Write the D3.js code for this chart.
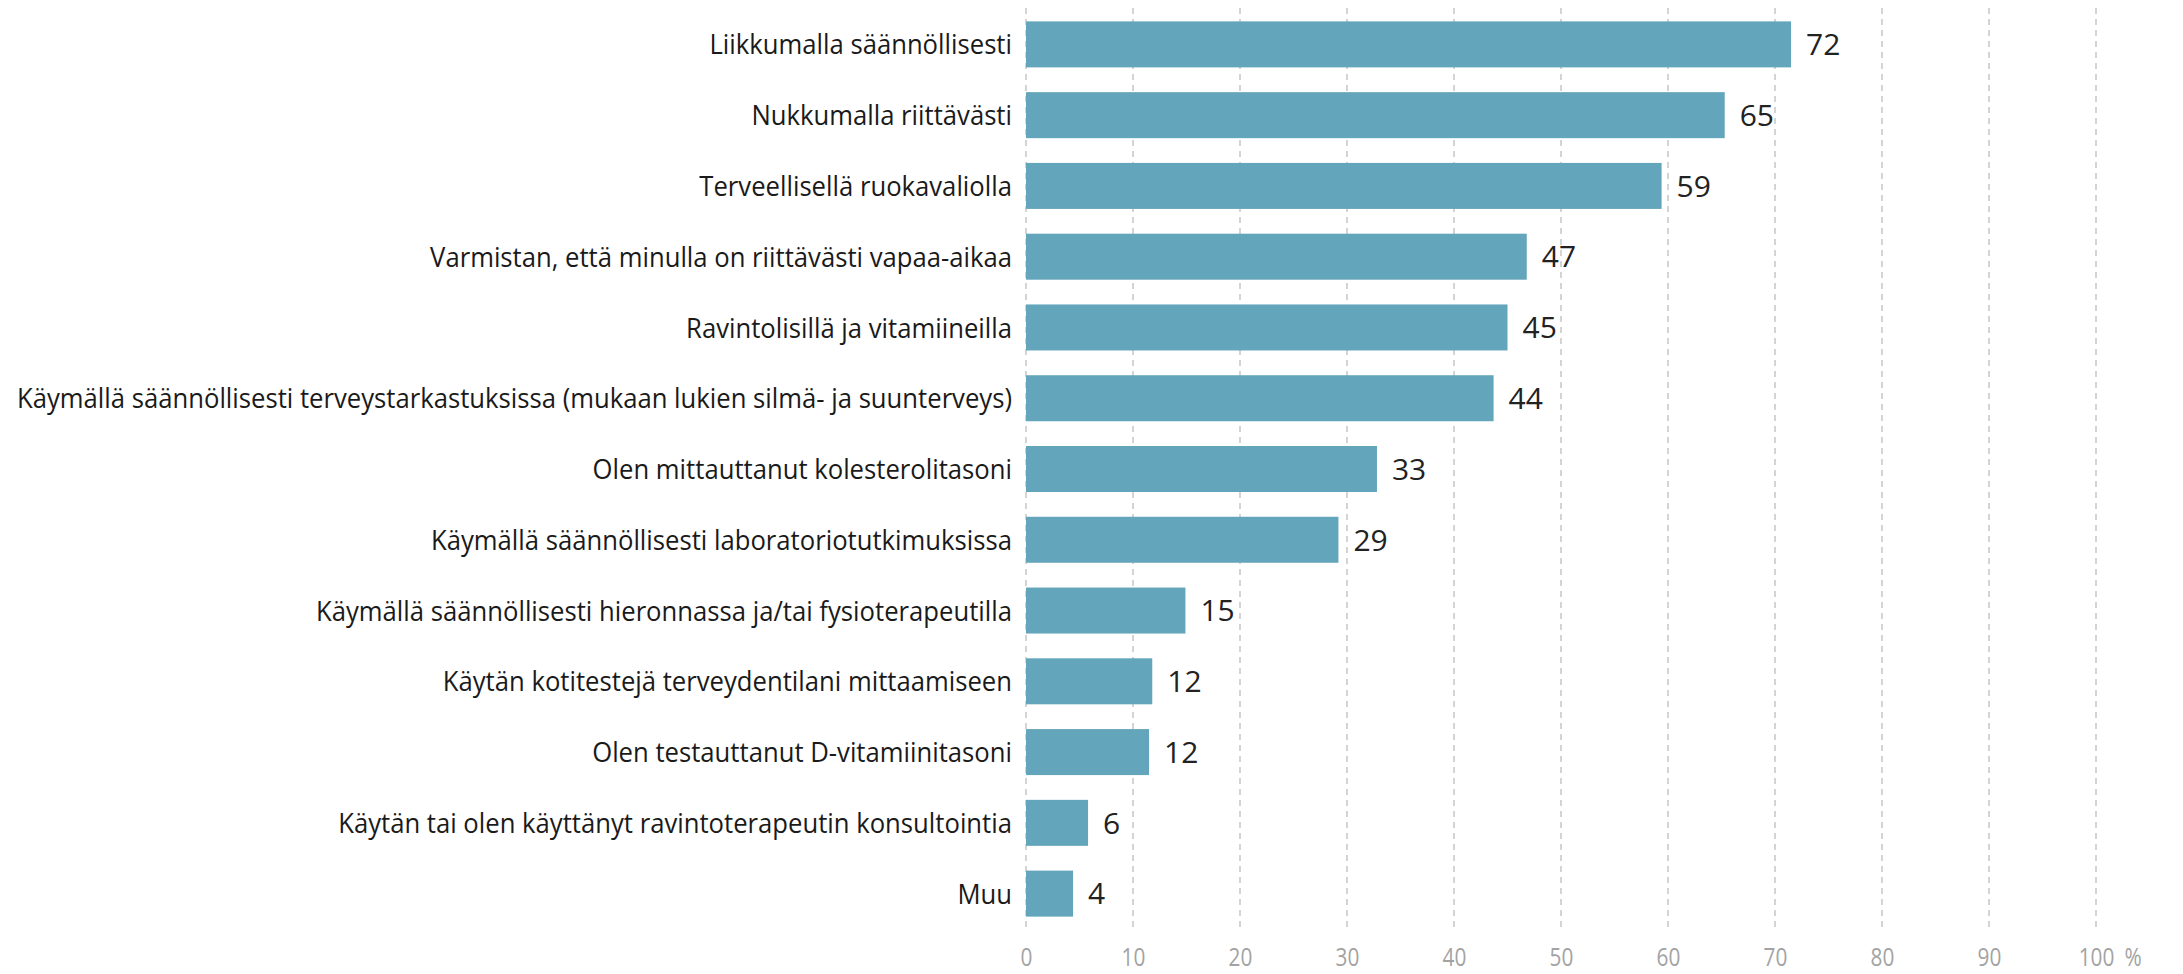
<!DOCTYPE html>
<html>
<head>
<meta charset="utf-8">
<script src="https://cdn.jsdelivr.net/npm/d3@7"></script>
<style>
  body { margin: 0; background: #fff; overflow: hidden; }
  svg text { font-family: "Open Sans", sans-serif; }
</style>
</head>
<body>
<div id="chart"></div>
<script>
// Categories (top to bottom) and their shares in percent
var categories = [
    "Liikkumalla säännöllisesti",
    "Nukkumalla riittävästi",
    "Terveellisellä ruokavaliolla",
    "Varmistan, että minulla on riittävästi vapaa-aikaa",
    "Ravintolisillä ja vitamiineilla",
    "Käymällä säännöllisesti terveystarkastuksissa (mukaan lukien silmä- ja suunterveys)",
    "Olen mittauttanut kolesterolitasoni",
    "Käymällä säännöllisesti laboratoriotutkimuksissa",
    "Käymällä säännöllisesti hieronnassa ja/tai fysioterapeutilla",
    "Käytän kotitestejä terveydentilani mittaamiseen",
    "Olen testauttanut D-vitamiinitasoni",
    "Käytän tai olen käyttänyt ravintoterapeutin konsultointia",
    "Muu"
];
var values = [71.5, 65.3, 59.4, 46.8, 45.0, 43.7, 32.8, 29.2, 14.9, 11.8, 11.5, 5.8, 4.4];
var valueLabels = ["72", "65", "59", "47", "45", "44", "33", "29", "15", "12", "12", "6", "4"];
var xTicks = [0, 10, 20, 30, 40, 50, 60, 70, 80, 90, 100];

var width = 2183, height = 974;

var svg = d3.select("#chart")
    .append("svg")
    .attr("width", width)
    .attr("height", height);

// x scale: 0..100 percent
var x = d3.scaleLinear()
    .domain([0, 100])
    .range([1026, 2096]);

// y band scale for the categories
var y = d3.scaleBand()
    .domain(categories)
    .range([9, 929])
    .paddingInner(0.35)
    .paddingOuter(0.175);

// squeeze a selection of texts horizontally by a factor
function squeeze(sel, ratio) {
    sel.each(function() {
        var len = this.getComputedTextLength();
        d3.select(this)
            .attr("textLength", len * ratio)
            .attr("lengthAdjust", "spacingAndGlyphs");
    });
}

// dashed vertical gridlines
svg.selectAll(".grid")
    .data(xTicks)
    .enter()
    .append("line")
    .attr("class", "grid")
    .attr("x1", d => x(d))
    .attr("x2", d => x(d))
    .attr("y1", 8)
    .attr("y2", 930)
    .style("stroke", "#b8b8b8")
    .style("stroke-width", 1.2)
    .style("stroke-dasharray", "6,5");

// bars
svg.selectAll(".bar")
    .data(values)
    .enter()
    .append("rect")
    .attr("class", "bar")
    .attr("x", x(0))
    .attr("y", (d, i) => y(categories[i]))
    .attr("width", d => x(d) - x(0))
    .attr("height", y.bandwidth())
    .style("fill", "#63a5ba");

// value labels
svg.selectAll(".val")
    .data(values)
    .enter()
    .append("text")
    .attr("class", "val")
    .attr("x", d => x(d) + 15)
    .attr("y", (d, i) => y(categories[i]) + y.bandwidth() / 2)
    .attr("dy", "0.36em")
    .style("font-size", "30px")
    .style("fill", "#222")
    .text((d, i) => valueLabels[i]);

// category labels, right aligned at the axis
var catLabels = svg.selectAll(".cat")
    .data(categories)
    .enter()
    .append("text")
    .attr("class", "cat")
    .attr("x", x(0) - 14)
    .attr("y", d => y(d) + y.bandwidth() / 2)
    .attr("dy", "0.36em")
    .attr("text-anchor", "end")
    .style("font-size", "28px")
    .style("fill", "#1a1a1a")
    .text(d => d);

// make the longest label match the reference width
var longest = d3.max(catLabels.nodes(), n => n.getComputedTextLength());
var ratio = Math.min(1, 995 / longest);
if (ratio < 1) squeeze(catLabels, ratio);

// x axis tick labels
var axis = svg.append("g")
    .attr("transform", "translate(0,966)")
    .call(d3.axisBottom(x).tickValues(xTicks).tickSize(0).tickPadding(0));
axis.select(".domain").remove();
axis.selectAll("text")
    .attr("y", 0)
    .attr("dy", 0)
    .style("font-family", "\"Open Sans\", sans-serif")
    .style("font-size", "26px")
    .style("fill", "#a3a3a3");
squeeze(axis.selectAll("text"), 0.8);

var pct = svg.append("text")
    .attr("x", 2133)
    .attr("y", 966)
    .attr("text-anchor", "middle")
    .style("font-size", "26px")
    .style("fill", "#a3a3a3")
    .text("%");
squeeze(pct, 0.8);
</script>
</body>
</html>
